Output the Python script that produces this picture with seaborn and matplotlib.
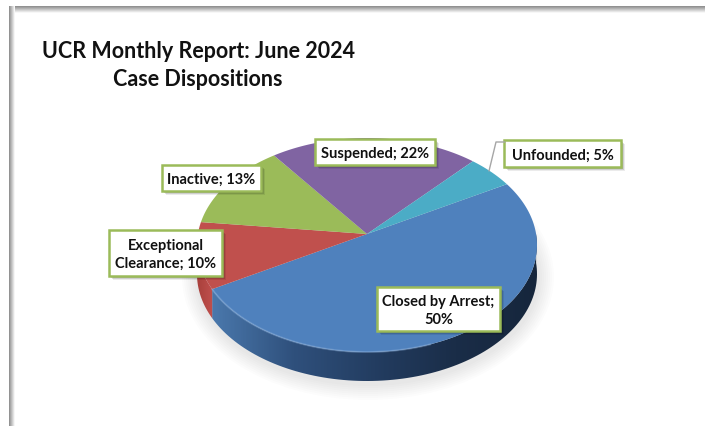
import numpy as np
import matplotlib
matplotlib.use('Agg')
import matplotlib.pyplot as plt
from matplotlib.colors import LinearSegmentedColormap
from matplotlib.patches import Ellipse, Polygon, Rectangle
import seaborn as sns

# chart values
categories = ['Closed by Arrest', 'Exceptional Clearance', 'Inactive', 'Suspended', 'Unfounded']
shares = [50, 10, 13, 22, 5]
slice_colors = ['#4F81BD', '#C0504D', '#9BBB59', '#8064A2', '#4BACC6']
label_texts = ['Closed by Arrest;\n50%', 'Exceptional\nClearance; 10%', 'Inactive; 13%', 'Suspended; 22%', 'Unfounded; 5%']
title_lines = ['UCR Monthly Report: June 2024', 'Case Dispositions']

sns.set_theme(style='white')
plt.rcParams['font.family'] = ['Lato', 'DejaVu Sans']

W, H = 705, 426
cx, cy, rx, ry = 367, 245, 170, 107   # pie rim in pixels
lift = 11 / 107                       # perspective, apex sits above rim centre (unit circle)
depth = 29
start = 29.5

fig = plt.figure(figsize=(W / 100, H / 100), dpi=100)
bg = fig.add_axes([0, 0, 1, 1], zorder=0)
bg.axis('off')

# window frame shadow, top and left
fade = LinearSegmentedColormap.from_list('fade', ['#8a8a8a', '#c4c4c4', '#ffffff'])
bg.imshow(np.linspace(0, 1, 32).reshape(-1, 1), cmap=fade, extent=(9, W, 13, 6), aspect='auto', zorder=1)
bg.imshow(np.linspace(0, 1, 32).reshape(1, -1), cmap=fade, extent=(9, 15, H, 6), aspect='auto', zorder=2)
bg.set_xlim(0, W)
bg.set_ylim(H, 0)

# soft shadow under the pie
for grow in np.arange(16, 0, -2):
    bg.add_patch(Ellipse((cx + 1, cy + depth + 3), 2 * (rx + grow), 2 * (ry + grow),
                         fc='#000000', ec='none', alpha=0.012, zorder=3))


def to_rim(v):
    # move points of a unit pie so that the apex is lifted but rays still end on the unit rim
    v = np.atleast_2d(v)
    r = np.hypot(v[:, 0], v[:, 1])
    d = v / np.where(r == 0, 1, r)[:, None]
    ad = lift * d[:, 1]
    t = -ad + np.sqrt(ad ** 2 - lift ** 2 + 1)
    out = v * t[:, None]
    out[:, 1] += lift
    return out


def unit_arc(angles):
    a = np.radians(angles)
    return np.c_[np.cos(a), np.sin(a)]


def rim_points(angles):
    p = to_rim(unit_arc(angles))
    return cx + rx * p[:, 0], cy - ry * p[:, 1]


def draw_wall(a1, a2, colors):
    # side of the pie between two pie angles (lower half only)
    x, y = rim_points(np.linspace(a1, a2, 100))
    pts = np.vstack([np.c_[x, y], np.c_[x, y + depth][::-1]])
    poly = Polygon(pts, closed=True, fc='none', ec='none', transform=bg.transData)
    bg.add_patch(poly)
    cmap = LinearSegmentedColormap.from_list('wall', colors)
    img = bg.imshow(np.linspace(0, 1, 200).reshape(1, -1), cmap=cmap, aspect='auto', zorder=4,
                    extent=(x.min(), x.max(), y.max() + depth, y.min()))
    img.set_clip_path(poly)
    bg.set_xlim(0, W)
    bg.set_ylim(H, 0)


edges = start - np.cumsum([0] + shares) * 3.6   # clockwise from the start angle
draw_wall(edges[1], 0, ['#4A78AC', '#2F507C', '#233D61', '#1A2D48', '#16263C'])
draw_wall(180, edges[1] + 360, ['#A8403C', '#C0504D'])

# top face
pie_ax = fig.add_axes([(cx - rx) / W, 1 - (cy + ry) / H, 2 * rx / W, 2 * ry / H], zorder=1)
pie_ax.patch.set_alpha(0)
wedges, _ = pie_ax.pie(shares, colors=sns.color_palette(slice_colors), startangle=start, counterclock=False)
pie_ax.set_aspect('auto')
pie_ax.set_xlim(-1, 1)
pie_ax.set_ylim(-1, 1)
for w in list(wedges):
    arc = unit_arc(np.linspace(w.theta1, w.theta2, 200))
    pts = np.vstack([arc, [[0, 0]]])
    pie_ax.add_patch(Polygon(to_rim(pts), closed=True, fc=w.get_facecolor(), ec='none'))
    w.remove()

top = fig.add_axes([0, 0, 1, 1], zorder=2)
top.set_xlim(0, W)
top.set_ylim(H, 0)
top.axis('off')

# light bevel along the front rim of the big slice
x, y = rim_points(np.linspace(edges[1], -70, 80))
top.plot(x, y, color='#8FB4E0', lw=1.4, alpha=0.4, solid_capstyle='round')

# title
top.text(198, 51, title_lines[0], ha='center', va='center', fontsize=15.5, fontweight='bold', color='#111111')
top.text(198, 79, title_lines[1], ha='center', va='center', fontsize=15.5, fontweight='bold', color='#111111')

# leader line for the small slice
top.plot([505, 496, 489], [142, 142, 171], color='#A6A6A6', lw=1)

# data labels, boxes in the order of categories
boxes = [(377, 287, 123, 44), (109, 230, 113, 46), (162, 165, 99, 26), (315, 139, 120, 26), (504, 140, 117, 27)]
for txt, (bx, by, bw, bh) in zip(label_texts, boxes):
    for off, a in [(4, 0.08), (3, 0.12), (2, 0.16)]:
        top.add_patch(Rectangle((bx + off, by + off), bw, bh, fc='#000000', ec='none', alpha=a))
    top.add_patch(Rectangle((bx, by), bw, bh, fc='white', ec='#9BBB59', lw=1.8))
    top.text(bx + bw / 2, by + bh / 2 + 2, txt, ha='center', va='center', fontsize=10.5, fontweight='bold',
             color='#111111', linespacing=1.3)

fig.savefig('out.png', dpi=100, facecolor='white')
